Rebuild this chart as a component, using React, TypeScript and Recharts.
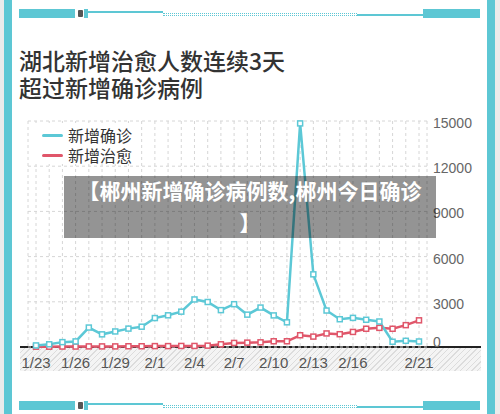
import React from 'react';
import { LineChart, Line, XAxis, YAxis, CartesianGrid } from 'recharts';

const categories = [
  '1/23', '1/24', '1/25', '1/26', '1/27', '1/28', '1/29', '1/30', '1/31',
  '2/1', '2/2', '2/3', '2/4', '2/5', '2/6', '2/7', '2/8', '2/9', '2/10',
  '2/11', '2/12', '2/13', '2/14', '2/15', '2/16', '2/17', '2/18', '2/19', '2/20', '2/21',
];
const confirmed = [
  105, 180, 323, 371, 1291, 840, 1032, 1220, 1347,
  1921, 2103, 2345, 3156, 2987, 2447, 2841, 2147, 2618, 2097,
  1638, 14840, 4823, 2420, 1843, 1933, 1807, 1693, 349, 411, 366,
];
const cured = [
  20, 20, 30, 30, 40, 40, 40, 50, 50,
  60, 60, 70, 70, 90, 180, 270, 290, 310, 380,
  380, 780, 690, 900, 850, 1000, 1210, 1270, 1210, 1450, 1770,
];
const xTickLabels = ['1/23', '1/26', '1/29', '2/1', '2/4', '2/7', '2/10', '2/13', '2/16', '2/21'];
const yTicks = [0, 3000, 6000, 9000, 12000, 15000];
const seriesNames = ['新增确诊', '新增治愈'];
const titleLines = ['湖北新增治愈人数连续3天', '超过新增确诊病例'];
const overlayLines = ['【郴州新增确诊病例数,郴州今日确诊', '】'];

const CYAN = '#5cc8d6';
const RED = '#e0566a';
const FRAME = '#5dc7d4';

const data = categories.map((d, i) => ({ date: d, confirmed: confirmed[i], cured: cured[i] }));

const LATIN = '"Liberation Sans", Arial, sans-serif';
const CJK = '"Noto Sans CJK SC", sans-serif';

const XTick = (props: any) => {
  const { x, y, payload } = props;
  if (!xTickLabels.includes(payload.value)) return <g />;
  return (
    <text x={x} y={y} dy={21} textAnchor="middle" fill="#555" fontSize={15} fontFamily={LATIN}>
      {payload.value}
    </text>
  );
};

const YTick = (props: any) => {
  const { x, y, payload } = props;
  return (
    <text x={x} y={y} dy={payload.value === 0 ? 0 : 7} textAnchor="start" fill="#666" fontSize={14} fontFamily={LATIN}>
      {payload.value}
    </text>
  );
};

const squareDot = (color: string) => (props: any) => {
  const { cx, cy, index } = props;
  return (
    <rect key={`dot-${color}-${index}`} x={cx - 2.5} y={cy - 2.5} width={5} height={5} fill="#fff" stroke={color} strokeWidth={1.5} />
  );
};

const Tape = ({ top }: { top: number }) => (
  <>
    <div style={{ position: 'absolute', left: 19, top, width: 56, height: 9, background: FRAME }} />
    <div style={{ position: 'absolute', left: 78, top: top + 1, width: 5, height: 7, background: '#555', borderRadius: 1 }} />
    <div style={{ position: 'absolute', left: 84, top, width: 4, height: 9, background: FRAME }} />
    <div style={{ position: 'absolute', left: 88, top: top + 2, width: 75, height: 1.5, background: FRAME }} />
    <div style={{ position: 'absolute', left: 163, top: top + 4, width: 194, height: 0, borderTop: `1px dotted ${FRAME}` }} />
    <div style={{ position: 'absolute', left: 163, top: top + 6, width: 194, height: 0, borderTop: `1px dotted ${FRAME}` }} />
    <div style={{ position: 'absolute', left: 357, top: top + 5, width: 66, height: 1.5, background: FRAME }} />
    <div style={{ position: 'absolute', left: 423, top, width: 57, height: 9, background: FRAME }} />
  </>
);

export default function App() {
  return (
    <div style={{ position: 'absolute', left: 0, top: 0, width: 500, height: 414, background: '#ebebeb', overflow: 'hidden' }}>
      <div style={{ position: 'absolute', left: 4, top: 0, width: 475, height: 414, background: '#fff', borderLeft: `8px solid ${FRAME}`, borderRight: `8px solid ${FRAME}` }} />
      <Tape top={9} />
      <Tape top={401} />
      <div style={{ position: 'absolute', left: 19, top: 47, fontFamily: CJK, fontSize: 23, lineHeight: '27px', fontWeight: 500, color: '#333', whiteSpace: 'nowrap' }}>
        {titleLines.map((t, i) => (<div key={i} style={{ height: 27 }}>{t}</div>))}
      </div>
      <div style={{
        position: 'absolute', left: 20, top: 348, width: 461, height: 23,
        background: 'repeating-linear-gradient(135deg, #f4f4f4 0px, #f4f4f4 3px, #dcdcdc 3px, #dcdcdc 4px)',
      }} />
      <div style={{ position: 'absolute', left: 20, top: 346, width: 461, height: 2, background: '#222' }} />
      <div style={{ position: 'absolute', left: 0, top: 0 }}>
        <LineChart width={500} height={414} data={data} margin={{ top: 121, right: 14, left: 28, bottom: 37 }}>
          <CartesianGrid stroke="#d6d6d6" strokeDasharray="3 3" />
          <XAxis dataKey="date" padding={{ left: 8, right: 8 }} axisLine={false} tickLine={false} tickSize={0} tickMargin={0} interval={0} tick={<XTick />} height={30} />
          <YAxis orientation="right" domain={[0, 15000]} ticks={yTicks} axisLine={false} tickLine={false} tickSize={0} tickMargin={6} tick={<YTick />} width={59} />
          <Line dataKey="cured" name={seriesNames[1]} stroke={RED} strokeWidth={2.5} dot={squareDot(RED)} isAnimationActive={false} />
          <Line dataKey="confirmed" name={seriesNames[0]} stroke={CYAN} strokeWidth={2.5} dot={squareDot(CYAN)} isAnimationActive={false} />
        </LineChart>
      </div>
      <div style={{ position: 'absolute', left: 29, top: 123, width: 110, height: 41, background: '#fff', fontFamily: CJK }}>
        {[CYAN, RED].map((c, i) => (
          <div key={i} style={{ position: 'absolute', left: 0, top: i * 20 + 1, height: 22, display: 'flex', alignItems: 'center' }}>
            <div style={{ marginLeft: 13, width: 21, height: 3, borderRadius: 2, background: c }} />
            <span style={{ marginLeft: 5, fontSize: 16, color: '#333', lineHeight: '20px' }}>{seriesNames[i]}</span>
          </div>
        ))}
      </div>
      <div style={{
        position: 'absolute', left: 64, top: 176, width: 372, height: 62, background: 'rgba(0,0,0,0.42)',
        color: '#fff', fontFamily: CJK, fontWeight: 700, fontSize: 21, textAlign: 'center', lineHeight: '35px', whiteSpace: 'nowrap',
      }}>
        <div style={{ marginTop: -3 }}>{overlayLines[0]}</div>
        <div style={{ marginTop: -3 }}>{overlayLines[1]}</div>
      </div>
    </div>
  );
}
